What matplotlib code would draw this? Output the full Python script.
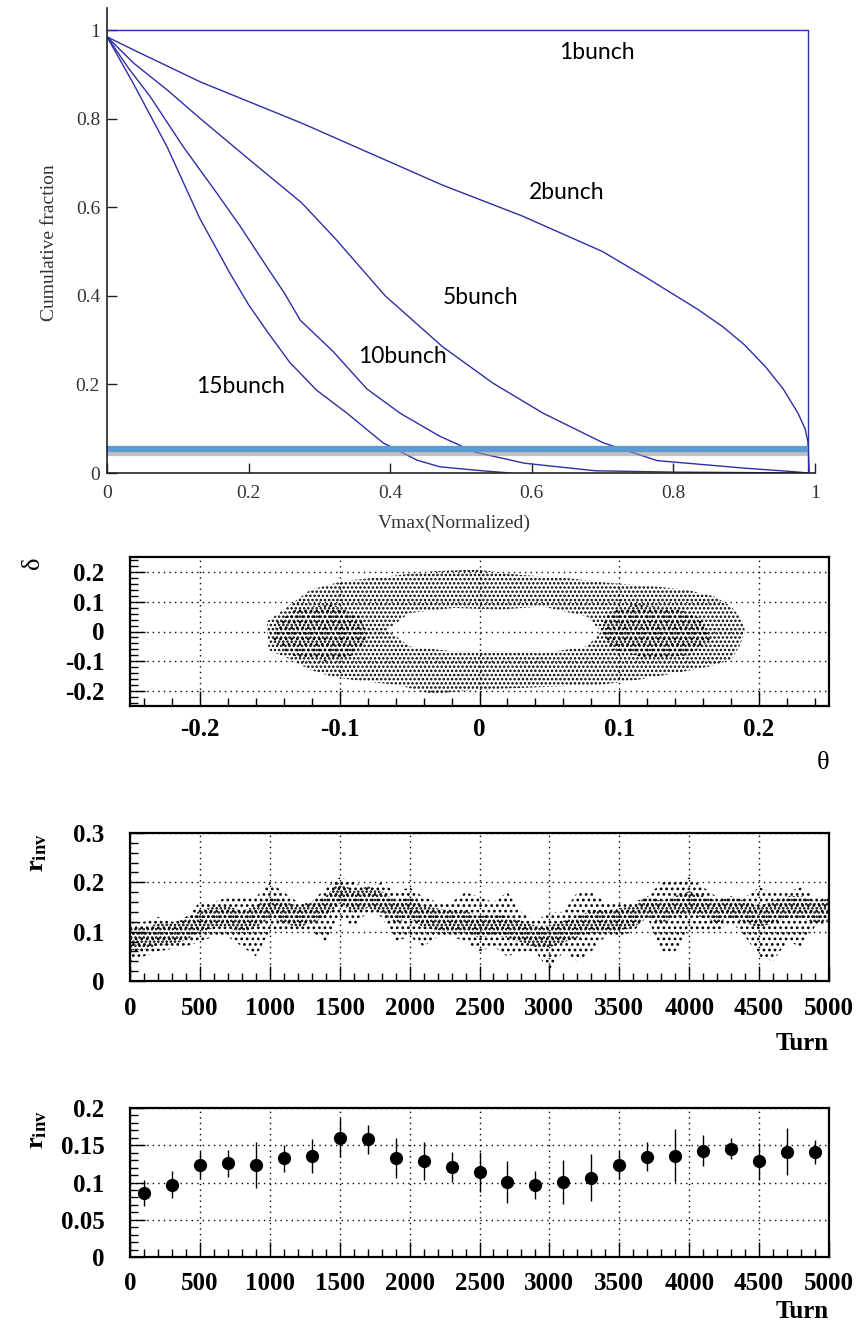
import numpy as np
import matplotlib
matplotlib.use("Agg")
import matplotlib.pyplot as plt
import matplotlib.patheffects as pe
from matplotlib.path import Path
from matplotlib.patches import PathPatch
from matplotlib.ticker import MultipleLocator, FixedLocator, FixedFormatter

plt.rcParams['font.family'] = 'Liberation Serif'
plt.rcParams['mathtext.fontset'] = 'custom'
plt.rcParams['mathtext.rm'] = 'Liberation Serif'
plt.rcParams['mathtext.bf'] = 'Liberation Serif:bold'
plt.rcParams['hatch.linewidth'] = 1.2
plt.rcParams['hatch.color'] = 'black'

# ---- panel 1: cumulative fraction vs Vmax ----
one_x = [0, 0.99, 0.99]
one_y = [1.0, 1.0, 0.0]
two_x = [0, 0.038, 0.132, 0.275, 0.474, 0.587, 0.70, 0.758, 0.834, 0.87, 0.90, 0.93, 0.955, 0.976, 0.986, 0.99, 0.992]
two_y = [0.985, 0.955, 0.883, 0.79, 0.65, 0.58, 0.50, 0.445, 0.37, 0.33, 0.29, 0.24, 0.19, 0.135, 0.10, 0.07, 0.0]
five_x = [0, 0.038, 0.085, 0.132, 0.203, 0.275, 0.322, 0.393, 0.474, 0.545, 0.616, 0.701, 0.777, 0.9, 0.97, 0.99]
five_y = [0.985, 0.925, 0.865, 0.8, 0.705, 0.61, 0.53, 0.40, 0.285, 0.203, 0.135, 0.068, 0.028, 0.011, 0.003, 0.0]
ten_x = [0, 0.03, 0.061, 0.108, 0.156, 0.189, 0.226, 0.251, 0.273, 0.319, 0.367, 0.414, 0.47, 0.52, 0.59, 0.69, 0.8, 0.99]
ten_y = [0.985, 0.915, 0.85, 0.736, 0.63, 0.555, 0.465, 0.405, 0.345, 0.275, 0.19, 0.135, 0.083, 0.047, 0.022, 0.005, 0.002, 0.0]
fif_x = [0, 0.037, 0.085, 0.131, 0.174, 0.2, 0.226, 0.258, 0.296, 0.339, 0.39, 0.438, 0.47, 0.53, 0.57]
fif_y = [0.985, 0.88, 0.736, 0.575, 0.45, 0.38, 0.32, 0.25, 0.187, 0.135, 0.068, 0.029, 0.014, 0.005, 0.0]
bunch_labels = ['1bunch', '2bunch', '5bunch', '10bunch', '15bunch']
label_x = [0.692, 0.649, 0.527, 0.417, 0.188]
label_y = [0.95, 0.634, 0.397, 0.262, 0.196]
threshold = 0.054

# ---- panel 2: delta vs theta cloud (outline of ring) ----
outer_theta = [-0.152, -0.137, -0.121, -0.098, -0.066, -0.034, -0.002, 0.029, 0.061, 0.093, 0.124,
               0.148, 0.168, 0.18, 0.188, 0.19, 0.186, 0.18, 0.164, 0.14, 0.112, 0.085, 0.053, 0.021,
               -0.006, -0.034, -0.058, -0.09, -0.105, -0.121, -0.137, -0.151]
outer_delta = [0.034, 0.084, 0.14, 0.169, 0.185, 0.202, 0.208, 0.19, 0.18, 0.163, 0.152,
               0.14, 0.118, 0.084, 0.039, 0.0, -0.05, -0.095, -0.118, -0.14, -0.163, -0.18, -0.185, -0.191,
               -0.197, -0.21, -0.18, -0.163, -0.152, -0.129, -0.09, -0.062]
inner_theta = [-0.066, -0.05, -0.018, 0.014, 0.045, 0.077, 0.087, 0.077, 0.045, 0.014, -0.018, -0.05]
inner_delta = [0.006, 0.062, 0.079, 0.073, 0.084, 0.05, 0.0, -0.05, -0.073, -0.067, -0.067, -0.05]
lobeL_theta = [-0.145, -0.13, -0.105, -0.085, -0.08, -0.09, -0.11, -0.135, -0.148]
lobeL_delta = [0.03, 0.08, 0.09, 0.05, -0.02, -0.08, -0.1, -0.08, -0.03]
lobeR_theta = [0.09, 0.11, 0.14, 0.16, 0.165, 0.15, 0.12, 0.095, 0.088]
lobeR_delta = [0.06, 0.09, 0.08, 0.04, -0.03, -0.08, -0.09, -0.06, 0.0]

# ---- panel 3: r_inv vs turn (band read every 100 turns) ----
turns = np.arange(0, 5001, 100)
r_lo = [0.04, 0.05, 0.06, 0.065, 0.07, 0.08, 0.09, 0.09, 0.07, 0.05,
        0.10, 0.10, 0.10, 0.10, 0.08, 0.13, 0.11, 0.14, 0.13, 0.08,
        0.09, 0.07, 0.09, 0.09, 0.08, 0.06, 0.07, 0.05, 0.06, 0.06,
        0.02, 0.06, 0.04, 0.06, 0.09, 0.09, 0.10, 0.13, 0.06, 0.06,
        0.10, 0.10, 0.10, 0.12, 0.09, 0.05, 0.04, 0.08, 0.07, 0.11, 0.12]
r_hi = [0.12, 0.12, 0.13, 0.12, 0.13, 0.16, 0.16, 0.17, 0.17, 0.17,
        0.20, 0.18, 0.16, 0.16, 0.19, 0.21, 0.20, 0.19, 0.20, 0.18,
        0.19, 0.17, 0.16, 0.16, 0.18, 0.17, 0.16, 0.18, 0.14, 0.12,
        0.14, 0.14, 0.18, 0.18, 0.16, 0.16, 0.16, 0.17, 0.20, 0.20,
        0.21, 0.19, 0.17, 0.17, 0.17, 0.19, 0.18, 0.18, 0.19, 0.17, 0.17]
r_mid = [0.085, 0.085, 0.095, 0.095, 0.105, 0.12, 0.13, 0.13, 0.12, 0.13,
         0.15, 0.14, 0.13, 0.14, 0.15, 0.18, 0.16, 0.17, 0.16, 0.14,
         0.15, 0.13, 0.125, 0.12, 0.12, 0.11, 0.115, 0.11, 0.10, 0.09,
         0.09, 0.10, 0.11, 0.12, 0.12, 0.125, 0.13, 0.15, 0.14, 0.15,
         0.16, 0.15, 0.14, 0.15, 0.14, 0.13, 0.14, 0.15, 0.15, 0.14, 0.145]

# ---- panel 4: averaged r_inv with errors ----
avg_turn = np.arange(100, 5000, 200)
avg_r = [0.0858, 0.097, 0.1236, 0.1258, 0.124, 0.1326, 0.1357, 0.1604, 0.1578, 0.1326,
         0.129, 0.1204, 0.1137, 0.1002, 0.097, 0.1007, 0.1065, 0.1231, 0.1348, 0.1362,
         0.1429, 0.1452, 0.1285, 0.1416, 0.1407]
avg_err = [0.018, 0.018, 0.019, 0.018, 0.031, 0.018, 0.023, 0.026, 0.02, 0.027,
           0.026, 0.02, 0.027, 0.028, 0.019, 0.029, 0.032, 0.019, 0.019, 0.036,
           0.021, 0.014, 0.025, 0.031, 0.016]

W, H = 868, 1326


def box(left, top, right, bottom):
    return [left / W, 1 - bottom / H, (right - left) / W, (bottom - top) / H]


def fpos(x, y):
    return x / W, 1 - y / H


fig = plt.figure(figsize=(W / 100, H / 100), dpi=100)

# ================= panel 1 =================
blue = '#2e2ea6'
ax1 = fig.add_axes(box(107, 8, 815, 473))
for xs, ys in [(one_x, one_y), (two_x, two_y), (five_x, five_y), (ten_x, ten_y), (fif_x, fif_y)]:
    ax1.plot(xs, ys, color=blue, lw=1.0)
ax1.plot([0, 0.99], [threshold, threshold], color='#5b9bd5', lw=4.5, solid_capstyle='butt',
         path_effects=[pe.SimpleLineShadow(offset=(0, -3), shadow_color='#999999', alpha=0.6),
                       pe.Normal()])
for t, x, y in zip(bunch_labels, label_x, label_y):
    ax1.text(x, y, t, fontsize=16.5, family='Lato', ha='center', va='center', color='black')
ax1.set_xlim(0, 1)
ax1.set_ylim(0, 1.05)
ax1.spines['top'].set_visible(False)
ax1.spines['right'].set_visible(False)
for s in ['left', 'bottom']:
    ax1.spines[s].set_linewidth(1.2)
    ax1.spines[s].set_color('#222222')
ax1.set_xticks([0, 0.2, 0.4, 0.6, 0.8, 1.0])
ax1.set_xticklabels(['0', '0.2', '0.4', '0.6', '0.8', '1'])
ax1.set_yticks([0, 0.2, 0.4, 0.6, 0.8, 1.0])
ax1.set_yticklabels(['0', '0.2', '0.4', '0.6', '0.8', '1'])
ax1.tick_params(direction='in', length=7, width=1, colors='#222222', labelsize=14,
                labelcolor='#333333')
ax1.tick_params(axis='x', pad=8.5)
ax1.tick_params(axis='y', pad=5)
fig.text(*fpos(50, 243), 'Cumulative fraction', rotation=90, ha='center', va='center',
         fontsize=14, color='#333333')
fig.text(*fpos(454, 523), 'Vmax(Normalized)', ha='center', va='center', fontsize=14, color='#333333')


def root_style(ax, xmaj, xmin, ymaj, ymin, xpad):
    for s in ax.spines.values():
        s.set_linewidth(1.6)
    ax.xaxis.set_major_locator(MultipleLocator(xmaj))
    ax.xaxis.set_minor_locator(MultipleLocator(xmin))
    ax.yaxis.set_major_locator(MultipleLocator(ymaj))
    ax.yaxis.set_minor_locator(MultipleLocator(ymin))
    ax.grid(True, which='major', ls=(0, (1, 3)), color='black', lw=1.0)
    ax.tick_params(which='both', direction='in', top=False, right=False, width=1,
                   labelsize=18)
    ax.tick_params(which='major', length=11)
    ax.tick_params(which='minor', length=6)
    ax.tick_params(axis='y', pad=18.5)
    ax.tick_params(axis='x', pad=xpad)


def bold_labels(ax):
    for lab in ax.get_xticklabels() + ax.get_yticklabels():
        lab.set_fontweight('bold')


# ================= panel 2 =================
ax2 = fig.add_axes(box(130, 557, 829, 706))
outer = Path(np.column_stack([outer_theta + outer_theta[:1], outer_delta + outer_delta[:1]]), closed=True)
inner_pts = np.column_stack([inner_theta + inner_theta[:1], inner_delta + inner_delta[:1]])
inner = Path(inner_pts[::-1], closed=True)
ring = Path.make_compound_path(outer, inner)
ax2.add_patch(PathPatch(ring, facecolor='none', edgecolor='black', hatch='....', lw=0))
ax2.fill(lobeL_theta, lobeL_delta, facecolor='none', edgecolor='black', hatch='...', lw=0)
ax2.fill(lobeR_theta, lobeR_delta, facecolor='none', edgecolor='black', hatch='...', lw=0)
ax2.set_xlim(-0.25, 0.25)
ax2.set_ylim(-0.25, 0.25)
root_style(ax2, 0.1, 0.02, 0.1, 0.02, 8.5)
ax2.xaxis.set_major_locator(FixedLocator([-0.2, -0.1, 0, 0.1, 0.2]))
ax2.xaxis.set_major_formatter(FixedFormatter(['-0.2', '-0.1', '0', '0.1', '0.2']))
ax2.yaxis.set_major_locator(FixedLocator([-0.2, -0.1, 0, 0.1, 0.2]))
ax2.yaxis.set_major_formatter(FixedFormatter(['-0.2', '-0.1', '0', '0.1', '0.2']))
bold_labels(ax2)
fig.text(*fpos(33, 563), 'δ', rotation=90, ha='center', va='center', fontsize=19)
fig.text(*fpos(829, 763), 'θ', ha='right', va='center', fontsize=19)

# ================= panel 3 =================
ax3 = fig.add_axes(box(130, 833, 829, 981))
ax3.fill_between(turns, r_lo, r_hi, facecolor='none', edgecolor='black', hatch='...', lw=0)
core_half = 0.022
ax3.fill_between(turns, np.array(r_mid) - core_half, np.array(r_mid) + core_half,
                 facecolor='none', edgecolor='black', hatch='....', lw=0)
ax3.set_xlim(0, 5000)
ax3.set_ylim(0, 0.3)
root_style(ax3, 500, 100, 0.1, 0.02, 11.5)
ax3.yaxis.set_major_locator(FixedLocator([0, 0.1, 0.2, 0.3]))
ax3.yaxis.set_major_formatter(FixedFormatter(['0', '0.1', '0.2', '0.3']))
bold_labels(ax3)
fig.text(*fpos(38, 853), r'$\mathbf{r_{inv}}$', rotation=90, ha='center', va='center', fontsize=19)
fig.text(*fpos(829, 1043), 'Turn', ha='right', va='center', fontsize=18, fontweight='bold')

# ================= panel 4 =================
ax4 = fig.add_axes(box(130, 1108, 829, 1257))
ax4.errorbar(avg_turn, avg_r, yerr=avg_err, fmt='o', color='black', ms=8.5,
             elinewidth=1.0, capsize=0)
ax4.set_xlim(0, 5000)
ax4.set_ylim(0, 0.2)
root_style(ax4, 500, 100, 0.05, 0.01, 10.8)
ax4.yaxis.set_major_locator(FixedLocator([0, 0.05, 0.1, 0.15, 0.2]))
ax4.yaxis.set_major_formatter(FixedFormatter(['0', '0.05', '0.1', '0.15', '0.2']))
bold_labels(ax4)
fig.text(*fpos(38, 1130), r'$\mathbf{r_{inv}}$', rotation=90, ha='center', va='center', fontsize=19)
fig.text(*fpos(829, 1312), 'Turn', ha='right', va='center', fontsize=18, fontweight='bold')

fig.savefig('out.png', dpi=100)
